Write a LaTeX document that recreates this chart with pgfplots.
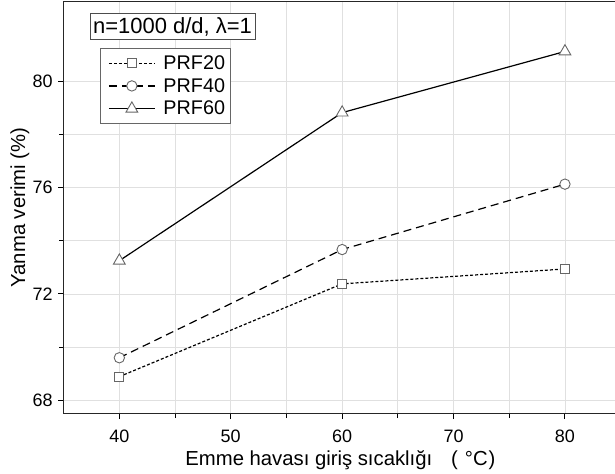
\documentclass[border=0pt]{standalone}
\usepackage{fontspec}
\setmainfont{Liberation Sans}
\usepackage{pgfplots}
\pgfplotsset{compat=1.18}
\newcommand\tickfont{\fontsize{18}{21}\selectfont}
\newcommand\labfont{\fontsize{20.3}{24}\selectfont}
\newcommand\legfont{\fontsize{19.8}{23}\selectfont}
\newcommand\boxfont{\fontsize{22}{26}\selectfont}
\begin{document}
\begin{tikzpicture}[x=1pt,y=1pt]
\begin{axis}[
  name=ax,
  scale only axis,
  width=554.2pt, height=412.5pt,
  xmin=35, xmax=84.7, ymin=67.5, ymax=83,
  xtick={40,50,60,70,80}, ytick={68,72,76,80},
  minor x tick num=1, minor y tick num=1,
  grid=both,
  major grid style={draw=black!12, line width=0.8pt},
  minor grid style={draw=black!12, line width=0.8pt},
  tick align=outside, xtick pos=left, ytick pos=left,
  major tick length=5.5pt, minor tick length=4.5pt,
  tick style={black, line width=1pt},
  axis line style={black!85, line width=1.3pt},
  /pgf/number format/assume math mode=true,
  ticklabel style={font=\tickfont},
  xticklabel style={yshift=-7pt},
  yticklabel style={xshift=-2pt},
  xlabel={Emme havası giriş sıcaklığı\hspace{19pt}(\hspace{7pt}°C\hspace{1pt})},
  ylabel={Yanma verimi (\%)},
  label style={font=\labfont},
  xlabel style={yshift=-1pt},
  ylabel style={yshift=-3.5pt},
  legend style={at={(0.0655,0.887)}, anchor=north west, draw=black!60, line width=0.8pt,
    font=\legfont, inner xsep=3pt, inner ysep=5pt, row sep=3.5pt},
  legend cell align=left,
  legend image code/.code={\path (-5pt,0pt) (52pt,0pt); \draw[mark repeat=2,mark phase=2] plot coordinates {(0pt,0pt) (23pt,0pt) (46pt,0pt)};},
]
\addplot[black, line width=1.2pt, dash pattern=on 3pt off 2pt,
  mark=square*, mark size=4.5pt, mark options={solid, fill=white, draw=black!60, line width=0.9pt}]
  coordinates {(40,68.89) (60,72.38) (80,72.94)};
\addlegendentry{\legfont PRF20}
\addplot[black, line width=1.2pt, dash pattern=on 8pt off 5pt,
  mark=*, mark size=5.2pt, mark options={solid, fill=white, draw=black!60, line width=0.9pt}]
  coordinates {(40,69.60) (60,73.67) (80,76.13)};
\addlegendentry{\legfont PRF40}
\addplot[black, line width=1.2pt,
  mark=triangle*, mark size=6.8pt, mark options={solid, fill=white, draw=black!60, line width=0.9pt}]
  coordinates {(40,73.25) (60,78.82) (80,81.12)};
\addlegendentry{\legfont PRF60}
\node[draw=black!70, line width=0.8pt, fill=white, anchor=north west, inner xsep=3pt, inner ysep=3.6pt,
  font=\boxfont] at (axis cs:37.34,82.56) {n=1000 d/d, λ=1};
\end{axis}
\pgfresetboundingbox
\path[use as bounding box] ([xshift=-63.7pt,yshift=-60pt]ax.south west) rectangle ([xshift=-2.3pt,yshift=1.5pt]ax.north east);
\end{tikzpicture}
\end{document}
